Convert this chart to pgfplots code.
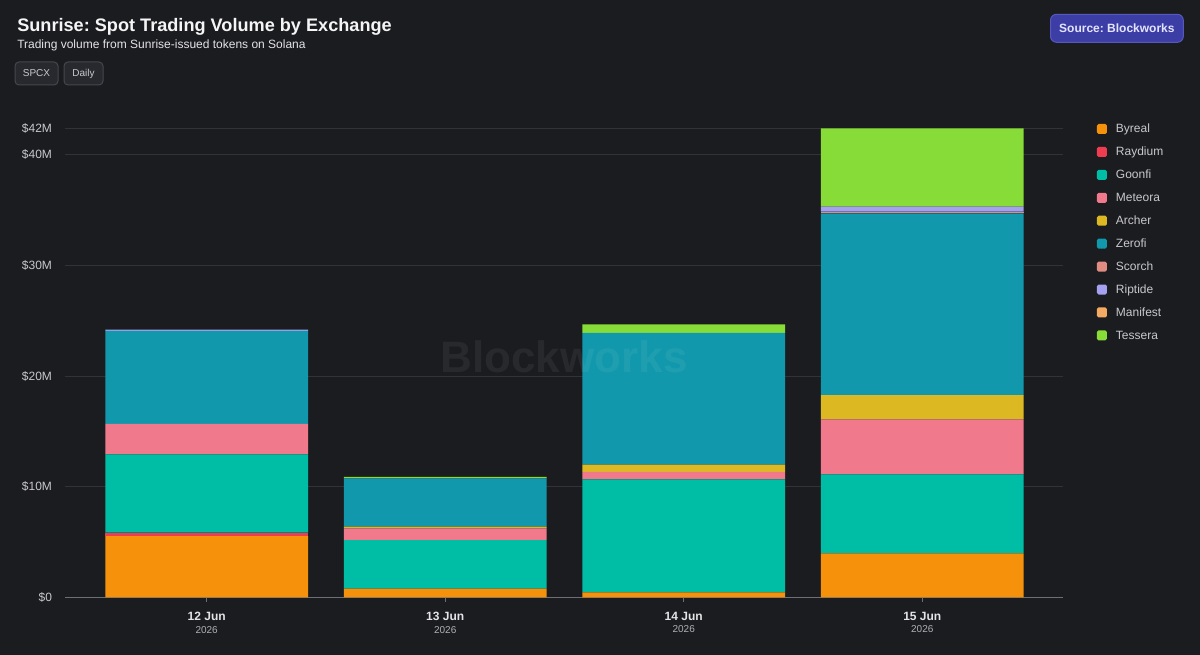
\documentclass[border=0pt]{standalone}
\usepackage{fontspec}
\setmainfont{Liberation Sans}
\usepackage{pgfplots}
\usepackage{pgfplotstable}
\pgfplotsset{compat=1.18}
\frenchspacing
\definecolor{bg}{RGB}{27,28,32}
\definecolor{gridc}{RGB}{50,51,56}
\definecolor{axisc}{RGB}{110,111,117}
\definecolor{ticktext}{RGB}{200,200,205}
\definecolor{xlab}{RGB}{228,228,231}
\definecolor{xsub}{RGB}{175,175,180}
\definecolor{cByreal}{RGB}{245,145,10}
\definecolor{cRaydium}{RGB}{240,60,80}
\definecolor{cGoonfi}{RGB}{0,190,165}
\definecolor{cMeteora}{RGB}{240,122,140}
\definecolor{cArcher}{RGB}{220,185,35}
\definecolor{cZerofi}{RGB}{18,152,172}
\definecolor{cScorch}{RGB}{225,140,130}
\definecolor{cRiptide}{RGB}{165,160,240}
\definecolor{cManifest}{RGB}{245,170,100}
\definecolor{cTessera}{RGB}{135,220,55}
\definecolor{srcfill}{RGB}{60,62,165}
\definecolor{srcborder}{RGB}{85,88,190}
\definecolor{btnfill}{RGB}{40,41,46}
\definecolor{btnborder}{RGB}{70,71,77}

\pgfplotstableread{
x byreal raydium goonfi meteora archer zerofi scorch riptide manifest tessera
0 5.54 0.30 7.09 2.74 0.00 8.43 0.00 0.10 0.00 0.00
1 0.78 0.00 4.40 1.06 0.15 4.37 0.00 0.00 0.00 0.12
2 0.45 0.00 10.22 0.66 0.66 11.93 0.00 0.00 0.00 0.76
3 3.98 0.00 7.14 4.97 2.20 16.43 0.15 0.45 0.00 7.09
}\voldata

\pgfplotsset{
  lg/.style={legend image code/.code={%
    \fill[##1, rounded corners=1.2pt] (0pt,-3.75pt) rectangle (7.5pt,3.75pt);
    \path (14.25pt,0pt);}},
}

\begin{document}
\begin{tikzpicture}
\begin{scope}[x=0.75pt,y=-0.75pt,yshift=491.25pt]
  \fill[bg] (0,0) rectangle (1200,655);
  \node[anchor=base west, inner sep=0pt, text={rgb,255:red,245;green,245;blue,245}]
    at (17,31.7) {\fontsize{13.6}{16}\selectfont\bfseries Sunrise: Spot Trading Volume by Exchange};
  \node[anchor=base west, inner sep=0pt, text=xlab]
    at (17,48.5) {\fontsize{9}{11}\selectfont Trading volume from Sunrise-issued tokens on Solana};
  \draw[draw=btnborder, fill=btnfill, rounded corners=3pt, line width=0.75pt] (15,62) rectangle (58,85);
  \node[text=ticktext, inner sep=0pt] at (36.5,73.5) {\fontsize{7.5}{9}\selectfont SPCX};
  \draw[draw=btnborder, fill=btnfill, rounded corners=3pt, line width=0.75pt] (64,62) rectangle (103,85);
  \node[text=ticktext, inner sep=0pt] at (83.5,73.5) {\fontsize{7.5}{9}\selectfont Daily};
  \draw[draw=srcborder, fill=srcfill, rounded corners=4.5pt, line width=0.75pt] (1050.5,14.3) rectangle (1183.3,42.3);
  \node[text={rgb,255:red,228;green,228;blue,255}, inner sep=0pt] at (1116.9,28.3) {\fontsize{9}{11}\selectfont\bfseries Source: Blockworks};
\end{scope}

\begin{axis}[
  at={(48.75pt,43.275pt)}, anchor=south west,
  scale only axis, width=748.5pt, height=351.75pt,
  ybar stacked, bar width=152pt,
  xmin=-0.594, xmax=3.590, ymin=0, ymax=42.41,
  xtick={0,1,2,3},
  xticklabels={
    {\textbf{12 Jun}\\\textcolor{xsub}{\fontsize{7.5}{9.5}\selectfont 2026}},
    {\textbf{13 Jun}\\\textcolor{xsub}{\fontsize{7.5}{9.5}\selectfont 2026}},
    {\textbf{14 Jun}\\\textcolor{xsub}{\fontsize{7.5}{9.5}\selectfont 2026}},
    {\textbf{15 Jun}\\\textcolor{xsub}{\fontsize{7.5}{9.5}\selectfont 2026}}},
  ytick={0,10,20,30,40,42.41},
  yticklabels={\$0,\$10M,\$20M,\$30M,\$40M,\$42M},
  axis x line*=bottom, axis y line*=left,
  y axis line style={draw=none},
  x axis line style={draw=axisc, line width=0.75pt},
  tick align=outside, major tick length=3.4pt,
  xtick style={draw=axisc, line width=0.6pt},
  ytick style={draw=none},
  ymajorgrids, grid style={draw=gridc, line width=0.75pt},
  yticklabel style={anchor=east, inner sep=0pt, xshift=-6.2pt, text=ticktext, font=\fontsize{9}{11}\selectfont},
  xticklabel style={anchor=north, align=center, inner sep=0pt, yshift=-7.4pt, text=xlab, font=\fontsize{9}{9.5}\selectfont},
  legend cell align=left,
  legend style={at={(1.034,1.012)}, anchor=north west, draw=none, fill=none,
    inner sep=0pt, outer sep=0pt, row sep=7.7pt, column sep=0pt,
    font=\fontsize{9}{10}\selectfont, text=ticktext,
    nodes={inner sep=0pt, text height=7.5pt, text depth=2pt}},
]
\addplot[fill=cByreal, draw=none, lg] table[x=x, y=byreal] {\voldata};
\addlegendentry{Byreal}
\addplot[fill=cRaydium, draw=none, lg] table[x=x, y=raydium] {\voldata};
\addlegendentry{Raydium}
\addplot[fill=cGoonfi, draw=none, lg] table[x=x, y=goonfi] {\voldata};
\addlegendentry{Goonfi}
\addplot[fill=cMeteora, draw=none, lg] table[x=x, y=meteora] {\voldata};
\addlegendentry{Meteora}
\addplot[fill=cArcher, draw=none, lg] table[x=x, y=archer] {\voldata};
\addlegendentry{Archer}
\addplot[fill=cZerofi, draw=none, lg] table[x=x, y=zerofi] {\voldata};
\addlegendentry{Zerofi}
\addplot[fill=cScorch, draw=none, lg] table[x=x, y=scorch] {\voldata};
\addlegendentry{Scorch}
\addplot[fill=cRiptide, draw=none, lg] table[x=x, y=riptide] {\voldata};
\addlegendentry{Riptide}
\addplot[fill=cManifest, draw=none, lg] table[x=x, y=manifest] {\voldata};
\addlegendentry{Manifest}
\addplot[fill=cTessera, draw=none, lg] table[x=x, y=tessera] {\voldata};
\addlegendentry{Tessera}
\end{axis}

\begin{scope}[x=0.75pt,y=-0.75pt,yshift=491.25pt]
  \node[text=white, opacity=0.06, inner sep=0pt] at (564,357) {\fontsize{33}{36}\selectfont\bfseries Blockworks};
\end{scope}
\end{tikzpicture}
\end{document}
